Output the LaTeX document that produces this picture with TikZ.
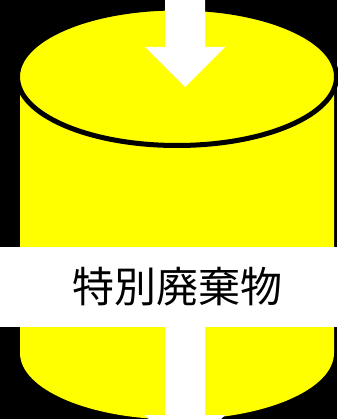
\documentclass[tikz,border=0pt]{standalone}
\usepackage{fontspec}
\newfontfamily\cjk{Noto Sans CJK JP}
\tikzset{
  drum/.style={fill={rgb,255:red,255;green,255;blue,0},draw=none},
  flow/.style={fill=white,draw=none}
}
\begin{document}
\begin{tikzpicture}[x=1pt,y=-1pt]
\useasboundingbox (0,0) rectangle (337,419);
\fill[black] (0,0) rectangle (337,419);
% body
\fill[drum] (20,77) -- (334,77) -- (334,353) arc[start angle=0,end angle=180,x radius=157,y radius=66.5] -- cycle;
% lid
\draw[drum,draw=black,line width=5pt] (177,76.75) ellipse[x radius=159.5,y radius=68.75];
% arrows
\clip (0,0) rectangle (337,419);
\fill[flow] (165,0) -- (205,0) -- (205,47) -- (225,47) -- (185,87) -- (145,47) -- (165,47) -- cycle;
\fill[flow] (165,320) -- (205,320) -- (205,415) -- (225,415) -- (185,455) -- (145,415) -- (165,415) -- cycle;
% label band
\node[flow,minimum width=337pt,minimum height=80pt,inner sep=0pt,anchor=center] (label) at (168.5,287)
  {\hspace*{18pt}\cjk\fontsize{42}{42}\selectfont 特別廃棄物};
\end{tikzpicture}
\end{document}
